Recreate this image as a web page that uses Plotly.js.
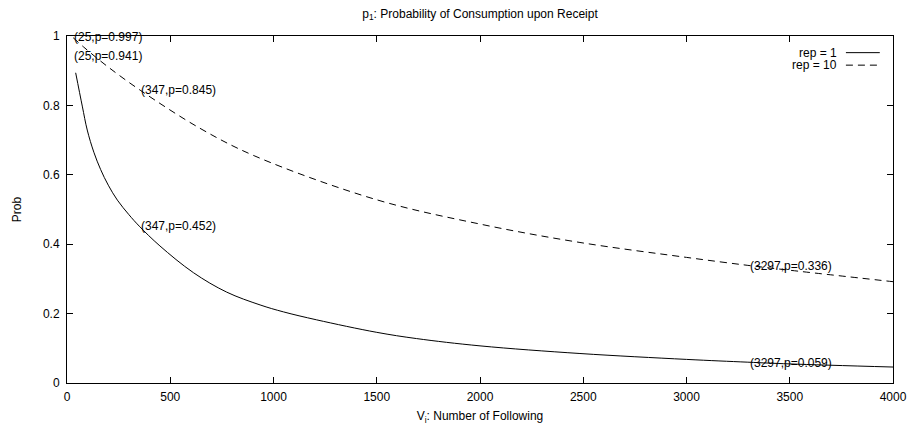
<!DOCTYPE html>
<html>
<head>
<meta charset="utf-8">
<script src="https://cdn.plot.ly/plotly-3.0.1.min.js"></script>
<style>html,body{margin:0;padding:0;background:#fff;}#chart{width:910px;height:430px;}</style>
</head>
<body>
<div id="chart"></div>
<script>
// rep = 1 (solid)
const rep1X = [42, 74, 98, 130, 163, 200, 244, 300, 350, 450, 612, 773, 935, 1048, 1209, 1500, 1693, 2000, 2484, 3000, 3297, 3500, 4000];
const rep1Y = [0.894, 0.798, 0.729, 0.665, 0.615, 0.570, 0.527, 0.485, 0.452, 0.395, 0.318, 0.262, 0.225, 0.205, 0.182, 0.146, 0.128, 0.107, 0.085, 0.068, 0.060, 0.055, 0.046];
// rep = 10 (dashed)
const rep10X = [30, 87, 192, 354, 644, 910, 1500, 2000, 2484, 3000, 3297, 3500, 4000];
const rep10Y = [0.995, 0.965, 0.914, 0.844, 0.734, 0.654, 0.528, 0.458, 0.405, 0.362, 0.339, 0.325, 0.292];
// point labels
const labelX = [25, 25, 347, 347, 3297, 3297];
const labelY = [0.997, 0.941, 0.845, 0.452, 0.336, 0.059];
const seriesNames = ['rep = 1', 'rep = 10'];

const FONT = 'Liberation Sans, Arial, Helvetica, sans-serif';

const traces = [
  {x: rep1X, y: rep1Y, mode: 'lines', name: seriesNames[0], line: {color: '#000', width: 1, shape: 'spline', smoothing: 1}},
  {x: rep10X, y: rep10Y, mode: 'lines', name: seriesNames[1], line: {color: '#000', width: 1, dash: '7px,5px', shape: 'spline', smoothing: 1}}
];

const annotations = labelX.map((x, i) => ({
  x: x, y: labelY[i], xref: 'x', yref: 'y',
  text: '(' + x + ',p=' + labelY[i].toFixed(3) + ')',
  showarrow: false, xanchor: 'left', yanchor: 'middle',
  font: {family: FONT, size: 12, color: '#000'}
}));

// manual gnuplot-style key (text then sample)
const keyY = [0.952, 0.916];
const shapes = [];
seriesNames.forEach((n, i) => {
  annotations.push({x: 0.933, y: keyY[i], xref: 'paper', yref: 'paper', text: n, showarrow: false,
    xanchor: 'right', yanchor: 'middle', borderpad: 0, font: {family: FONT, size: 12, color: '#000'}});
  shapes.push({type: 'line', xref: 'paper', yref: 'paper', x0: 0.943, x1: 0.984, y0: keyY[i], y1: keyY[i],
    line: {color: '#000', width: 1, dash: i === 0 ? 'solid' : '7px,5px'}});
});

const axisBase = {
  showline: true, linecolor: '#000', linewidth: 1, mirror: 'ticks',
  ticks: 'inside', ticklen: 6, tickcolor: '#000', tickwidth: 1,
  showgrid: false, zeroline: false,
  tickfont: {family: FONT, size: 12, color: '#000'}
};

const layout = {
  width: 910, height: 430,
  margin: {l: 67, r: 17, t: 36, b: 47, pad: 0},
  paper_bgcolor: '#fff', plot_bgcolor: '#fff',
  showlegend: false,
  font: {family: FONT, size: 12, color: '#000'},
  title: {text: 'p<sub>1</sub>: Probability of Consumption upon Receipt', x: 0.5, xref: 'paper',
    y: 0.968, yref: 'container', yanchor: 'middle', font: {family: FONT, size: 12, color: '#000'}},
  xaxis: Object.assign({}, axisBase, {range: [0, 4000], dtick: 500, tick0: 0, ticklabelstandoff: 3,
    title: {text: 'V<sub>i</sub>: Number of Following', standoff: 8, font: {family: FONT, size: 12, color: '#000'}}}),
  yaxis: Object.assign({}, axisBase, {range: [0, 1], dtick: 0.2, tick0: 0, ticklabelstandoff: 4,
    title: {text: 'Prob', standoff: 18, font: {family: FONT, size: 12, color: '#000'}}}),
  annotations: annotations,
  shapes: shapes
};

Plotly.newPlot('chart', traces, layout, {staticPlot: true, displayModeBar: false});
</script>
</body>
</html>
